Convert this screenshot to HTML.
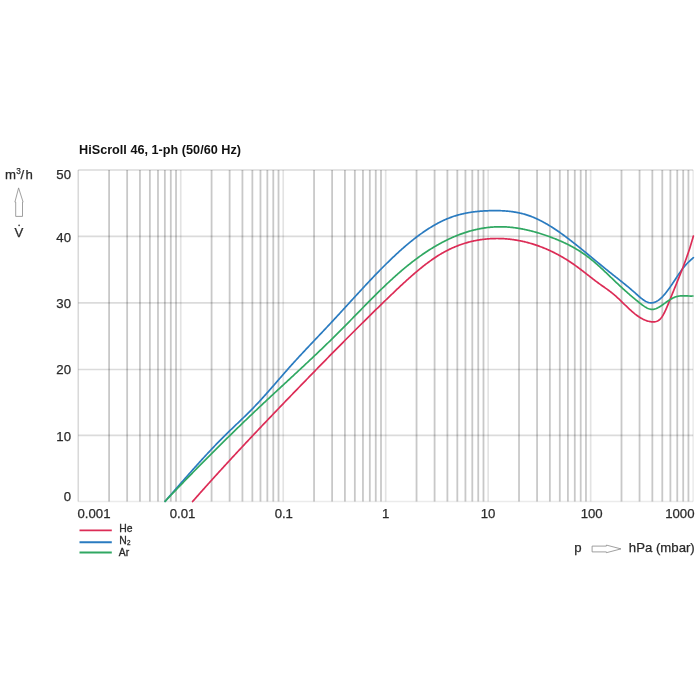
<!DOCTYPE html>
<html><head><meta charset="utf-8"><style>
html,body{margin:0;padding:0;background:#fff;}
svg{display:block;will-change:transform;}
text{font-family:"Liberation Sans",sans-serif;}
.mi{stroke:#000;stroke-opacity:0.215;stroke-width:1.8;}
.ma{stroke:#000;stroke-opacity:0.14;stroke-width:1.7;}
.md{stroke:#000;stroke-opacity:0.11;stroke-width:1.7;}
.bl{stroke:#000;stroke-opacity:0.15;stroke-width:1.6;}
.br{stroke:#000;stroke-opacity:0.08;stroke-width:1.6;}
.c{fill:none;stroke-width:1.7;stroke-linejoin:round;stroke-linecap:round;}
.ax{font-size:13.2px;fill:#2a2a2a;stroke:#2a2a2a;stroke-width:0.25px;}
.lg{font-size:10.4px;fill:#2a2a2a;stroke:#2a2a2a;stroke-width:0.3px;}
.ar{fill:none;stroke:#888;stroke-width:0.8;}
</style></head><body>
<svg width="700" height="700" viewBox="0 0 700 700">
<rect width="700" height="700" fill="#fff"/>
<line x1="109.10" y1="170.0" x2="109.10" y2="501.5" class="mi"/>
<line x1="127.15" y1="170.0" x2="127.15" y2="501.5" class="mi"/>
<line x1="139.95" y1="170.0" x2="139.95" y2="501.5" class="mi"/>
<line x1="149.88" y1="170.0" x2="149.88" y2="501.5" class="mi"/>
<line x1="157.99" y1="170.0" x2="157.99" y2="501.5" class="mi"/>
<line x1="164.86" y1="170.0" x2="164.86" y2="501.5" class="mi"/>
<line x1="170.80" y1="170.0" x2="170.80" y2="501.5" class="mi"/>
<line x1="176.04" y1="170.0" x2="176.04" y2="501.5" class="mi"/>
<line x1="211.58" y1="170.0" x2="211.58" y2="501.5" class="mi"/>
<line x1="229.63" y1="170.0" x2="229.63" y2="501.5" class="mi"/>
<line x1="242.43" y1="170.0" x2="242.43" y2="501.5" class="mi"/>
<line x1="252.36" y1="170.0" x2="252.36" y2="501.5" class="mi"/>
<line x1="260.47" y1="170.0" x2="260.47" y2="501.5" class="mi"/>
<line x1="267.34" y1="170.0" x2="267.34" y2="501.5" class="mi"/>
<line x1="273.28" y1="170.0" x2="273.28" y2="501.5" class="mi"/>
<line x1="278.52" y1="170.0" x2="278.52" y2="501.5" class="mi"/>
<line x1="314.06" y1="170.0" x2="314.06" y2="501.5" class="mi"/>
<line x1="332.11" y1="170.0" x2="332.11" y2="501.5" class="mi"/>
<line x1="344.91" y1="170.0" x2="344.91" y2="501.5" class="mi"/>
<line x1="354.84" y1="170.0" x2="354.84" y2="501.5" class="mi"/>
<line x1="362.95" y1="170.0" x2="362.95" y2="501.5" class="mi"/>
<line x1="369.82" y1="170.0" x2="369.82" y2="501.5" class="mi"/>
<line x1="375.76" y1="170.0" x2="375.76" y2="501.5" class="mi"/>
<line x1="381.00" y1="170.0" x2="381.00" y2="501.5" class="mi"/>
<line x1="416.54" y1="170.0" x2="416.54" y2="501.5" class="mi"/>
<line x1="434.59" y1="170.0" x2="434.59" y2="501.5" class="mi"/>
<line x1="447.39" y1="170.0" x2="447.39" y2="501.5" class="mi"/>
<line x1="457.32" y1="170.0" x2="457.32" y2="501.5" class="mi"/>
<line x1="465.43" y1="170.0" x2="465.43" y2="501.5" class="mi"/>
<line x1="472.30" y1="170.0" x2="472.30" y2="501.5" class="mi"/>
<line x1="478.24" y1="170.0" x2="478.24" y2="501.5" class="mi"/>
<line x1="483.48" y1="170.0" x2="483.48" y2="501.5" class="mi"/>
<line x1="519.02" y1="170.0" x2="519.02" y2="501.5" class="mi"/>
<line x1="537.07" y1="170.0" x2="537.07" y2="501.5" class="mi"/>
<line x1="549.87" y1="170.0" x2="549.87" y2="501.5" class="mi"/>
<line x1="559.80" y1="170.0" x2="559.80" y2="501.5" class="mi"/>
<line x1="567.91" y1="170.0" x2="567.91" y2="501.5" class="mi"/>
<line x1="574.78" y1="170.0" x2="574.78" y2="501.5" class="mi"/>
<line x1="580.72" y1="170.0" x2="580.72" y2="501.5" class="mi"/>
<line x1="585.96" y1="170.0" x2="585.96" y2="501.5" class="mi"/>
<line x1="621.50" y1="170.0" x2="621.50" y2="501.5" class="mi"/>
<line x1="639.55" y1="170.0" x2="639.55" y2="501.5" class="mi"/>
<line x1="652.35" y1="170.0" x2="652.35" y2="501.5" class="mi"/>
<line x1="662.28" y1="170.0" x2="662.28" y2="501.5" class="mi"/>
<line x1="670.39" y1="170.0" x2="670.39" y2="501.5" class="mi"/>
<line x1="677.26" y1="170.0" x2="677.26" y2="501.5" class="mi"/>
<line x1="683.20" y1="170.0" x2="683.20" y2="501.5" class="mi"/>
<line x1="688.44" y1="170.0" x2="688.44" y2="501.5" class="mi"/>
<line x1="180.73" y1="170.0" x2="180.73" y2="501.5" class="md"/>
<line x1="283.21" y1="170.0" x2="283.21" y2="501.5" class="md"/>
<line x1="385.69" y1="170.0" x2="385.69" y2="501.5" class="md"/>
<line x1="488.17" y1="170.0" x2="488.17" y2="501.5" class="md"/>
<line x1="590.65" y1="170.0" x2="590.65" y2="501.5" class="md"/>
<line x1="78.25" y1="236.4" x2="693.13" y2="236.4" class="ma"/>
<line x1="78.25" y1="302.9" x2="693.13" y2="302.9" class="ma"/>
<line x1="78.25" y1="369.5" x2="693.13" y2="369.5" class="ma"/>
<line x1="78.25" y1="435.4" x2="693.13" y2="435.4" class="ma"/>
<line x1="78.25" y1="170.0" x2="693.13" y2="170.0" class="bl"/>
<line x1="78.25" y1="170.0" x2="78.25" y2="501.5" class="bl"/>
<line x1="78.25" y1="501.5" x2="693.13" y2="501.5" class="br"/>
<line x1="693.13" y1="170.0" x2="693.13" y2="501.5" class="br"/>
<path class="c" stroke="#2a7bc0" d="M165.10,501.32 L165.85,500.46 L166.60,499.60 L167.35,498.74 L168.10,497.88 L168.85,497.02 L169.60,496.16 L170.35,495.30 L171.10,494.44 L171.85,493.58 L172.60,492.72 L173.35,491.86 L174.10,491.00 L174.85,490.14 L175.60,489.28 L176.35,488.42 L177.10,487.56 L177.85,486.71 L178.60,485.85 L179.35,484.99 L180.10,484.13 L180.85,483.28 L181.60,482.42 L182.35,481.56 L183.10,480.71 L183.85,479.85 L184.60,479.00 L185.35,478.15 L186.10,477.30 L186.85,476.45 L187.60,475.60 L188.35,474.75 L189.10,473.90 L189.85,473.05 L190.60,472.21 L191.35,471.36 L192.10,470.52 L192.85,469.68 L193.60,468.83 L194.35,467.99 L195.10,467.16 L195.85,466.32 L196.60,465.48 L197.35,464.65 L198.10,463.82 L198.85,462.99 L199.60,462.16 L200.35,461.33 L201.10,460.51 L201.85,459.69 L202.60,458.86 L203.35,458.04 L204.10,457.23 L204.85,456.41 L205.60,455.60 L206.35,454.79 L207.10,453.98 L207.85,453.17 L208.60,452.37 L209.35,451.56 L210.10,450.76 L210.85,449.97 L211.60,449.17 L212.35,448.38 L213.10,447.59 L213.85,446.80 L214.60,446.02 L215.35,445.23 L216.10,444.45 L216.85,443.68 L217.60,442.90 L218.35,442.13 L219.10,441.36 L219.85,440.60 L220.60,439.84 L221.35,439.08 L222.10,438.32 L222.85,437.57 L223.60,436.82 L224.35,436.07 L225.10,435.33 L225.85,434.59 L226.60,433.85 L227.35,433.12 L228.10,432.39 L228.85,431.66 L229.60,430.93 L230.35,430.21 L231.10,429.49 L231.85,428.77 L232.60,428.05 L233.35,427.33 L234.10,426.61 L234.85,425.89 L235.60,425.17 L236.35,424.46 L237.10,423.74 L237.85,423.03 L238.60,422.31 L239.35,421.59 L240.10,420.87 L240.85,420.15 L241.60,419.43 L242.35,418.71 L243.10,417.99 L243.85,417.26 L244.60,416.53 L245.35,415.80 L246.10,415.07 L246.85,414.33 L247.60,413.60 L248.35,412.85 L249.10,412.11 L249.85,411.36 L250.60,410.61 L251.35,409.85 L252.10,409.09 L252.85,408.32 L253.60,407.55 L254.35,406.78 L255.10,406.00 L255.85,405.21 L256.60,404.42 L257.35,403.62 L258.10,402.82 L258.85,402.02 L259.60,401.21 L260.35,400.39 L261.10,399.58 L261.85,398.75 L262.60,397.93 L263.35,397.10 L264.10,396.27 L264.85,395.43 L265.60,394.59 L266.35,393.75 L267.10,392.90 L267.85,392.06 L268.60,391.21 L269.35,390.36 L270.10,389.50 L270.85,388.65 L271.60,387.79 L272.35,386.93 L273.10,386.07 L273.85,385.21 L274.60,384.35 L275.35,383.48 L276.10,382.62 L276.85,381.76 L277.60,380.89 L278.35,380.03 L279.10,379.16 L279.85,378.30 L280.60,377.44 L281.35,376.58 L282.10,375.71 L282.85,374.85 L283.60,373.99 L284.35,373.14 L285.10,372.28 L285.85,371.42 L286.60,370.57 L287.35,369.72 L288.10,368.87 L288.85,368.02 L289.60,367.18 L290.35,366.34 L291.10,365.50 L291.85,364.67 L292.60,363.83 L293.35,363.00 L294.10,362.17 L294.85,361.35 L295.60,360.53 L296.35,359.71 L297.10,358.89 L297.85,358.07 L298.60,357.26 L299.35,356.44 L300.10,355.63 L300.85,354.82 L301.60,354.02 L302.35,353.21 L303.10,352.41 L303.85,351.60 L304.60,350.80 L305.35,350.00 L306.10,349.20 L306.85,348.41 L307.60,347.61 L308.35,346.81 L309.10,346.02 L309.85,345.22 L310.60,344.43 L311.35,343.64 L312.10,342.85 L312.85,342.06 L313.60,341.26 L314.35,340.47 L315.10,339.68 L315.85,338.89 L316.60,338.10 L317.35,337.31 L318.10,336.52 L318.85,335.73 L319.60,334.94 L320.35,334.15 L321.10,333.35 L321.85,332.56 L322.60,331.77 L323.35,330.98 L324.10,330.18 L324.85,329.39 L325.60,328.59 L326.35,327.79 L327.10,327.00 L327.85,326.20 L328.60,325.40 L329.35,324.59 L330.10,323.79 L330.85,322.99 L331.60,322.18 L332.35,321.37 L333.10,320.57 L333.85,319.76 L334.60,318.95 L335.35,318.13 L336.10,317.32 L336.85,316.51 L337.60,315.69 L338.35,314.88 L339.10,314.06 L339.85,313.24 L340.60,312.43 L341.35,311.61 L342.10,310.79 L342.85,309.97 L343.60,309.15 L344.35,308.33 L345.10,307.51 L345.85,306.69 L346.60,305.87 L347.35,305.05 L348.10,304.23 L348.85,303.41 L349.60,302.58 L350.35,301.76 L351.10,300.94 L351.85,300.12 L352.60,299.30 L353.35,298.48 L354.10,297.67 L354.85,296.85 L355.60,296.03 L356.35,295.21 L357.10,294.40 L357.85,293.58 L358.60,292.77 L359.35,291.95 L360.10,291.14 L360.85,290.33 L361.60,289.52 L362.35,288.71 L363.10,287.90 L363.85,287.09 L364.60,286.28 L365.35,285.48 L366.10,284.68 L366.85,283.87 L367.60,283.07 L368.35,282.28 L369.10,281.48 L369.85,280.68 L370.60,279.89 L371.35,279.10 L372.10,278.31 L372.85,277.52 L373.60,276.74 L374.35,275.95 L375.10,275.17 L375.85,274.39 L376.60,273.61 L377.35,272.84 L378.10,272.07 L378.85,271.30 L379.60,270.53 L380.35,269.77 L381.10,269.00 L381.85,268.24 L382.60,267.49 L383.35,266.73 L384.10,265.98 L384.85,265.24 L385.60,264.49 L386.35,263.75 L387.10,263.01 L387.85,262.27 L388.60,261.54 L389.35,260.81 L390.10,260.09 L390.85,259.36 L391.60,258.64 L392.35,257.93 L393.10,257.22 L393.85,256.51 L394.60,255.80 L395.35,255.10 L396.10,254.40 L396.85,253.71 L397.60,253.02 L398.35,252.33 L399.10,251.65 L399.85,250.98 L400.60,250.30 L401.35,249.63 L402.10,248.97 L402.85,248.31 L403.60,247.65 L404.35,247.00 L405.10,246.35 L405.85,245.71 L406.60,245.07 L407.35,244.44 L408.10,243.81 L408.85,243.18 L409.60,242.56 L410.35,241.95 L411.10,241.34 L411.85,240.74 L412.60,240.14 L413.35,239.54 L414.10,238.95 L414.85,238.37 L415.60,237.79 L416.35,237.22 L417.10,236.65 L417.85,236.09 L418.60,235.53 L419.35,234.98 L420.10,234.43 L420.85,233.89 L421.60,233.35 L422.35,232.82 L423.10,232.30 L423.85,231.78 L424.60,231.27 L425.35,230.76 L426.10,230.26 L426.85,229.77 L427.60,229.28 L428.35,228.80 L429.10,228.32 L429.85,227.85 L430.60,227.39 L431.35,226.93 L432.10,226.48 L432.85,226.03 L433.60,225.59 L434.35,225.16 L435.10,224.73 L435.85,224.31 L436.60,223.90 L437.35,223.49 L438.10,223.09 L438.85,222.70 L439.60,222.31 L440.35,221.93 L441.10,221.56 L441.85,221.19 L442.60,220.83 L443.35,220.48 L444.10,220.13 L444.85,219.80 L445.60,219.46 L446.35,219.14 L447.10,218.82 L447.85,218.51 L448.60,218.21 L449.35,217.92 L450.10,217.63 L450.85,217.35 L451.60,217.08 L452.35,216.81 L453.10,216.55 L453.85,216.30 L454.60,216.06 L455.35,215.82 L456.10,215.59 L456.85,215.36 L457.60,215.15 L458.35,214.93 L459.10,214.73 L459.85,214.53 L460.60,214.34 L461.35,214.15 L462.10,213.97 L462.85,213.80 L463.60,213.63 L464.35,213.47 L465.10,213.31 L465.85,213.16 L466.60,213.01 L467.35,212.87 L468.10,212.74 L468.85,212.61 L469.60,212.48 L470.35,212.36 L471.10,212.25 L471.85,212.14 L472.60,212.03 L473.35,211.93 L474.10,211.84 L474.85,211.74 L475.60,211.66 L476.35,211.57 L477.10,211.49 L477.85,211.42 L478.60,211.35 L479.35,211.28 L480.10,211.22 L480.85,211.16 L481.60,211.10 L482.35,211.05 L483.10,211.00 L483.85,210.96 L484.60,210.91 L485.35,210.88 L486.10,210.84 L486.85,210.81 L487.60,210.78 L488.35,210.75 L489.10,210.72 L489.85,210.70 L490.60,210.68 L491.35,210.67 L492.10,210.65 L492.85,210.64 L493.60,210.63 L494.35,210.63 L495.10,210.62 L495.85,210.62 L496.60,210.63 L497.35,210.64 L498.10,210.65 L498.85,210.66 L499.60,210.68 L500.35,210.70 L501.10,210.73 L501.85,210.76 L502.60,210.80 L503.35,210.84 L504.10,210.88 L504.85,210.93 L505.60,210.98 L506.35,211.04 L507.10,211.11 L507.85,211.17 L508.60,211.25 L509.35,211.33 L510.10,211.41 L510.85,211.50 L511.60,211.60 L512.35,211.70 L513.10,211.80 L513.85,211.92 L514.60,212.04 L515.35,212.16 L516.10,212.29 L516.85,212.43 L517.60,212.58 L518.35,212.73 L519.10,212.89 L519.85,213.05 L520.60,213.22 L521.35,213.40 L522.10,213.59 L522.85,213.78 L523.60,213.98 L524.35,214.19 L525.10,214.41 L525.85,214.63 L526.60,214.86 L527.35,215.10 L528.10,215.35 L528.85,215.60 L529.60,215.87 L530.35,216.14 L531.10,216.42 L531.85,216.71 L532.60,217.01 L533.35,217.32 L534.10,217.63 L534.85,217.95 L535.60,218.28 L536.35,218.62 L537.10,218.96 L537.85,219.32 L538.60,219.68 L539.35,220.04 L540.10,220.42 L540.85,220.80 L541.60,221.19 L542.35,221.58 L543.10,221.99 L543.85,222.39 L544.60,222.81 L545.35,223.23 L546.10,223.66 L546.85,224.09 L547.60,224.53 L548.35,224.98 L549.10,225.43 L549.85,225.89 L550.60,226.35 L551.35,226.82 L552.10,227.30 L552.85,227.78 L553.60,228.26 L554.35,228.75 L555.10,229.25 L555.85,229.75 L556.60,230.26 L557.35,230.77 L558.10,231.28 L558.85,231.80 L559.60,232.32 L560.35,232.85 L561.10,233.38 L561.85,233.92 L562.60,234.46 L563.35,235.01 L564.10,235.55 L564.85,236.10 L565.60,236.66 L566.35,237.22 L567.10,237.78 L567.85,238.35 L568.60,238.91 L569.35,239.49 L570.10,240.06 L570.85,240.64 L571.60,241.22 L572.35,241.80 L573.10,242.38 L573.85,242.97 L574.60,243.56 L575.35,244.15 L576.10,244.75 L576.85,245.34 L577.60,245.94 L578.35,246.54 L579.10,247.15 L579.85,247.75 L580.60,248.36 L581.35,248.96 L582.10,249.57 L582.85,250.18 L583.60,250.79 L584.35,251.41 L585.10,252.02 L585.85,252.63 L586.60,253.25 L587.35,253.87 L588.10,254.48 L588.85,255.10 L589.60,255.72 L590.35,256.34 L591.10,256.96 L591.85,257.58 L592.60,258.20 L593.35,258.82 L594.10,259.44 L594.85,260.06 L595.60,260.68 L596.35,261.30 L597.10,261.92 L597.85,262.54 L598.60,263.16 L599.35,263.78 L600.10,264.39 L600.85,265.01 L601.60,265.63 L602.35,266.24 L603.10,266.86 L603.85,267.47 L604.60,268.08 L605.35,268.69 L606.10,269.30 L606.85,269.91 L607.60,270.51 L608.35,271.12 L609.10,271.72 L609.85,272.32 L610.60,272.92 L611.35,273.52 L612.10,274.12 L612.85,274.71 L613.60,275.30 L614.35,275.90 L615.10,276.49 L615.85,277.08 L616.60,277.67 L617.35,278.27 L618.10,278.86 L618.85,279.45 L619.60,280.05 L620.35,280.64 L621.10,281.24 L621.85,281.84 L622.60,282.44 L623.35,283.04 L624.10,283.64 L624.85,284.25 L625.60,284.86 L626.35,285.47 L627.10,286.09 L627.85,286.71 L628.60,287.33 L629.35,287.96 L630.10,288.59 L630.85,289.23 L631.60,289.87 L632.35,290.52 L633.10,291.17 L633.85,291.82 L634.60,292.49 L635.35,293.15 L636.10,293.83 L636.85,294.50 L637.60,295.17 L638.35,295.84 L639.10,296.49 L639.85,297.13 L640.60,297.76 L641.35,298.37 L642.10,298.95 L642.85,299.51 L643.60,300.03 L644.35,300.53 L645.10,300.98 L645.85,301.40 L646.60,301.77 L647.35,302.09 L648.10,302.36 L648.85,302.58 L649.60,302.74 L650.35,302.84 L651.10,302.88 L651.85,302.85 L652.60,302.77 L653.35,302.63 L654.10,302.43 L654.85,302.17 L655.60,301.86 L656.35,301.49 L657.10,301.07 L657.85,300.61 L658.60,300.09 L659.35,299.52 L660.10,298.91 L660.85,298.25 L661.60,297.55 L662.35,296.80 L663.10,296.01 L663.85,295.19 L664.60,294.32 L665.35,293.42 L666.10,292.49 L666.85,291.53 L667.60,290.55 L668.35,289.53 L669.10,288.50 L669.85,287.44 L670.60,286.37 L671.35,285.28 L672.10,284.17 L672.85,283.06 L673.60,281.93 L674.35,280.80 L675.10,279.67 L675.85,278.53 L676.60,277.40 L677.35,276.27 L678.10,275.15 L678.85,274.04 L679.60,272.95 L680.35,271.87 L681.10,270.82 L681.85,269.78 L682.60,268.78 L683.35,267.81 L684.10,266.87 L684.85,265.97 L685.60,265.10 L686.35,264.28 L687.10,263.49 L687.85,262.72 L688.60,261.99 L689.35,261.28 L690.10,260.59 L690.85,259.91 L691.60,259.25 L692.35,258.60 L693.10,257.96 L693.40,257.70"/>
<path class="c" stroke="#dc2c56" d="M192.60,501.53 L193.35,500.67 L194.10,499.82 L194.85,498.97 L195.60,498.12 L196.35,497.27 L197.10,496.42 L197.85,495.57 L198.60,494.72 L199.35,493.87 L200.10,493.03 L200.85,492.18 L201.60,491.34 L202.35,490.50 L203.10,489.65 L203.85,488.81 L204.60,487.97 L205.35,487.13 L206.10,486.30 L206.85,485.46 L207.60,484.62 L208.35,483.78 L209.10,482.95 L209.85,482.12 L210.60,481.28 L211.35,480.45 L212.10,479.62 L212.85,478.79 L213.60,477.96 L214.35,477.13 L215.10,476.30 L215.85,475.47 L216.60,474.64 L217.35,473.82 L218.10,472.99 L218.85,472.17 L219.60,471.34 L220.35,470.52 L221.10,469.70 L221.85,468.88 L222.60,468.06 L223.35,467.24 L224.10,466.42 L224.85,465.60 L225.60,464.78 L226.35,463.96 L227.10,463.15 L227.85,462.33 L228.60,461.52 L229.35,460.70 L230.10,459.89 L230.85,459.08 L231.60,458.26 L232.35,457.45 L233.10,456.64 L233.85,455.83 L234.60,455.02 L235.35,454.21 L236.10,453.40 L236.85,452.60 L237.60,451.79 L238.35,450.98 L239.10,450.18 L239.85,449.37 L240.60,448.57 L241.35,447.76 L242.10,446.96 L242.85,446.16 L243.60,445.36 L244.35,444.55 L245.10,443.75 L245.85,442.95 L246.60,442.15 L247.35,441.35 L248.10,440.55 L248.85,439.76 L249.60,438.96 L250.35,438.16 L251.10,437.37 L251.85,436.57 L252.60,435.77 L253.35,434.98 L254.10,434.18 L254.85,433.39 L255.60,432.60 L256.35,431.80 L257.10,431.01 L257.85,430.22 L258.60,429.43 L259.35,428.64 L260.10,427.85 L260.85,427.06 L261.60,426.27 L262.35,425.48 L263.10,424.69 L263.85,423.90 L264.60,423.11 L265.35,422.33 L266.10,421.54 L266.85,420.75 L267.60,419.97 L268.35,419.18 L269.10,418.39 L269.85,417.61 L270.60,416.82 L271.35,416.04 L272.10,415.26 L272.85,414.47 L273.60,413.69 L274.35,412.91 L275.10,412.13 L275.85,411.34 L276.60,410.56 L277.35,409.78 L278.10,409.00 L278.85,408.22 L279.60,407.44 L280.35,406.66 L281.10,405.88 L281.85,405.10 L282.60,404.32 L283.35,403.54 L284.10,402.76 L284.85,401.98 L285.60,401.21 L286.35,400.43 L287.10,399.65 L287.85,398.87 L288.60,398.10 L289.35,397.32 L290.10,396.54 L290.85,395.77 L291.60,394.99 L292.35,394.22 L293.10,393.44 L293.85,392.67 L294.60,391.89 L295.35,391.12 L296.10,390.34 L296.85,389.57 L297.60,388.79 L298.35,388.02 L299.10,387.24 L299.85,386.47 L300.60,385.70 L301.35,384.92 L302.10,384.15 L302.85,383.38 L303.60,382.60 L304.35,381.83 L305.10,381.06 L305.85,380.29 L306.60,379.52 L307.35,378.74 L308.10,377.97 L308.85,377.20 L309.60,376.43 L310.35,375.66 L311.10,374.89 L311.85,374.12 L312.60,373.35 L313.35,372.58 L314.10,371.81 L314.85,371.04 L315.60,370.27 L316.35,369.50 L317.10,368.73 L317.85,367.96 L318.60,367.19 L319.35,366.42 L320.10,365.66 L320.85,364.89 L321.60,364.12 L322.35,363.36 L323.10,362.59 L323.85,361.82 L324.60,361.06 L325.35,360.29 L326.10,359.53 L326.85,358.76 L327.60,358.00 L328.35,357.23 L329.10,356.47 L329.85,355.71 L330.60,354.94 L331.35,354.18 L332.10,353.42 L332.85,352.65 L333.60,351.89 L334.35,351.13 L335.10,350.37 L335.85,349.61 L336.60,348.85 L337.35,348.09 L338.10,347.33 L338.85,346.57 L339.60,345.81 L340.35,345.05 L341.10,344.30 L341.85,343.54 L342.60,342.78 L343.35,342.03 L344.10,341.27 L344.85,340.51 L345.60,339.76 L346.35,339.00 L347.10,338.25 L347.85,337.50 L348.60,336.74 L349.35,335.99 L350.10,335.24 L350.85,334.48 L351.60,333.73 L352.35,332.98 L353.10,332.23 L353.85,331.48 L354.60,330.73 L355.35,329.98 L356.10,329.23 L356.85,328.49 L357.60,327.74 L358.35,326.99 L359.10,326.25 L359.85,325.50 L360.60,324.75 L361.35,324.01 L362.10,323.26 L362.85,322.52 L363.60,321.78 L364.35,321.03 L365.10,320.29 L365.85,319.55 L366.60,318.81 L367.35,318.07 L368.10,317.33 L368.85,316.59 L369.60,315.85 L370.35,315.11 L371.10,314.38 L371.85,313.64 L372.60,312.90 L373.35,312.17 L374.10,311.43 L374.85,310.70 L375.60,309.96 L376.35,309.23 L377.10,308.50 L377.85,307.77 L378.60,307.04 L379.35,306.31 L380.10,305.58 L380.85,304.85 L381.60,304.12 L382.35,303.39 L383.10,302.66 L383.85,301.94 L384.60,301.21 L385.35,300.49 L386.10,299.76 L386.85,299.04 L387.60,298.31 L388.35,297.59 L389.10,296.87 L389.85,296.15 L390.60,295.43 L391.35,294.71 L392.10,293.99 L392.85,293.27 L393.60,292.56 L394.35,291.84 L395.10,291.13 L395.85,290.42 L396.60,289.70 L397.35,288.99 L398.10,288.29 L398.85,287.58 L399.60,286.88 L400.35,286.17 L401.10,285.47 L401.85,284.78 L402.60,284.08 L403.35,283.39 L404.10,282.70 L404.85,282.01 L405.60,281.32 L406.35,280.64 L407.10,279.96 L407.85,279.29 L408.60,278.61 L409.35,277.94 L410.10,277.27 L410.85,276.61 L411.60,275.95 L412.35,275.29 L413.10,274.64 L413.85,273.99 L414.60,273.34 L415.35,272.70 L416.10,272.07 L416.85,271.43 L417.60,270.80 L418.35,270.18 L419.10,269.56 L419.85,268.94 L420.60,268.33 L421.35,267.72 L422.10,267.12 L422.85,266.53 L423.60,265.94 L424.35,265.35 L425.10,264.77 L425.85,264.19 L426.60,263.62 L427.35,263.06 L428.10,262.50 L428.85,261.95 L429.60,261.40 L430.35,260.86 L431.10,260.32 L431.85,259.79 L432.60,259.27 L433.35,258.75 L434.10,258.24 L434.85,257.74 L435.60,257.24 L436.35,256.75 L437.10,256.27 L437.85,255.79 L438.60,255.32 L439.35,254.86 L440.10,254.40 L440.85,253.95 L441.60,253.51 L442.35,253.08 L443.10,252.65 L443.85,252.24 L444.60,251.82 L445.35,251.42 L446.10,251.02 L446.85,250.63 L447.60,250.25 L448.35,249.87 L449.10,249.50 L449.85,249.14 L450.60,248.78 L451.35,248.43 L452.10,248.09 L452.85,247.75 L453.60,247.42 L454.35,247.10 L455.10,246.78 L455.85,246.47 L456.60,246.17 L457.35,245.88 L458.10,245.59 L458.85,245.30 L459.60,245.02 L460.35,244.75 L461.10,244.49 L461.85,244.23 L462.60,243.98 L463.35,243.73 L464.10,243.49 L464.85,243.26 L465.60,243.03 L466.35,242.81 L467.10,242.60 L467.85,242.39 L468.60,242.18 L469.35,241.99 L470.10,241.80 L470.85,241.61 L471.60,241.43 L472.35,241.26 L473.10,241.09 L473.85,240.93 L474.60,240.77 L475.35,240.62 L476.10,240.47 L476.85,240.33 L477.60,240.20 L478.35,240.07 L479.10,239.94 L479.85,239.83 L480.60,239.71 L481.35,239.61 L482.10,239.50 L482.85,239.41 L483.60,239.31 L484.35,239.23 L485.10,239.15 L485.85,239.07 L486.60,239.00 L487.35,238.93 L488.10,238.87 L488.85,238.81 L489.60,238.76 L490.35,238.72 L491.10,238.67 L491.85,238.64 L492.60,238.61 L493.35,238.58 L494.10,238.56 L494.85,238.54 L495.60,238.53 L496.35,238.52 L497.10,238.52 L497.85,238.52 L498.60,238.53 L499.35,238.54 L500.10,238.56 L500.85,238.58 L501.60,238.60 L502.35,238.64 L503.10,238.67 L503.85,238.71 L504.60,238.76 L505.35,238.81 L506.10,238.87 L506.85,238.93 L507.60,238.99 L508.35,239.06 L509.10,239.14 L509.85,239.22 L510.60,239.30 L511.35,239.39 L512.10,239.49 L512.85,239.59 L513.60,239.69 L514.35,239.80 L515.10,239.92 L515.85,240.04 L516.60,240.16 L517.35,240.29 L518.10,240.42 L518.85,240.56 L519.60,240.71 L520.35,240.86 L521.10,241.01 L521.85,241.17 L522.60,241.33 L523.35,241.50 L524.10,241.67 L524.85,241.85 L525.60,242.03 L526.35,242.22 L527.10,242.41 L527.85,242.61 L528.60,242.81 L529.35,243.02 L530.10,243.23 L530.85,243.45 L531.60,243.67 L532.35,243.90 L533.10,244.13 L533.85,244.37 L534.60,244.61 L535.35,244.85 L536.10,245.10 L536.85,245.36 L537.60,245.62 L538.35,245.89 L539.10,246.16 L539.85,246.43 L540.60,246.72 L541.35,247.00 L542.10,247.29 L542.85,247.59 L543.60,247.89 L544.35,248.19 L545.10,248.50 L545.85,248.82 L546.60,249.14 L547.35,249.46 L548.10,249.80 L548.85,250.13 L549.60,250.47 L550.35,250.82 L551.10,251.17 L551.85,251.53 L552.60,251.89 L553.35,252.26 L554.10,252.63 L554.85,253.01 L555.60,253.39 L556.35,253.78 L557.10,254.18 L557.85,254.57 L558.60,254.98 L559.35,255.39 L560.10,255.81 L560.85,256.23 L561.60,256.66 L562.35,257.09 L563.10,257.53 L563.85,257.97 L564.60,258.42 L565.35,258.88 L566.10,259.34 L566.85,259.81 L567.60,260.28 L568.35,260.76 L569.10,261.25 L569.85,261.74 L570.60,262.23 L571.35,262.74 L572.10,263.24 L572.85,263.76 L573.60,264.28 L574.35,264.81 L575.10,265.34 L575.85,265.88 L576.60,266.42 L577.35,266.97 L578.10,267.53 L578.85,268.08 L579.60,268.65 L580.35,269.21 L581.10,269.79 L581.85,270.36 L582.60,270.94 L583.35,271.51 L584.10,272.10 L584.85,272.68 L585.60,273.26 L586.35,273.85 L587.10,274.43 L587.85,275.02 L588.60,275.61 L589.35,276.19 L590.10,276.78 L590.85,277.36 L591.60,277.94 L592.35,278.52 L593.10,279.10 L593.85,279.67 L594.60,280.25 L595.35,280.81 L596.10,281.38 L596.85,281.94 L597.60,282.50 L598.35,283.05 L599.10,283.60 L599.85,284.14 L600.60,284.67 L601.35,285.20 L602.10,285.73 L602.85,286.26 L603.60,286.78 L604.35,287.30 L605.10,287.83 L605.85,288.36 L606.60,288.89 L607.35,289.42 L608.10,289.97 L608.85,290.51 L609.60,291.07 L610.35,291.64 L611.10,292.22 L611.85,292.81 L612.60,293.42 L613.35,294.04 L614.10,294.67 L614.85,295.32 L615.60,295.99 L616.35,296.66 L617.10,297.34 L617.85,298.04 L618.60,298.74 L619.35,299.45 L620.10,300.17 L620.85,300.89 L621.60,301.61 L622.35,302.34 L623.10,303.07 L623.85,303.80 L624.60,304.53 L625.35,305.25 L626.10,305.98 L626.85,306.70 L627.60,307.41 L628.35,308.12 L629.10,308.83 L629.85,309.52 L630.60,310.20 L631.35,310.88 L632.10,311.54 L632.85,312.19 L633.60,312.82 L634.35,313.44 L635.10,314.05 L635.85,314.63 L636.60,315.20 L637.35,315.75 L638.10,316.28 L638.85,316.79 L639.60,317.27 L640.35,317.73 L641.10,318.17 L641.85,318.59 L642.60,318.99 L643.35,319.36 L644.10,319.70 L644.85,320.03 L645.60,320.32 L646.35,320.60 L647.10,320.85 L647.85,321.07 L648.60,321.27 L649.35,321.44 L650.10,321.59 L650.85,321.71 L651.60,321.80 L652.35,321.86 L653.10,321.90 L653.85,321.89 L654.60,321.84 L655.35,321.72 L656.10,321.54 L656.85,321.29 L657.60,320.95 L658.35,320.52 L659.10,319.98 L659.85,319.34 L660.60,318.57 L661.35,317.68 L662.10,316.65 L662.85,315.48 L663.60,314.18 L664.35,312.76 L665.10,311.24 L665.85,309.63 L666.60,307.94 L667.35,306.19 L668.10,304.39 L668.85,302.54 L669.60,300.68 L670.35,298.80 L671.10,296.92 L671.85,295.05 L672.60,293.19 L673.35,291.34 L674.10,289.49 L674.85,287.65 L675.60,285.81 L676.35,283.96 L677.10,282.12 L677.85,280.27 L678.60,278.41 L679.35,276.55 L680.10,274.67 L680.85,272.78 L681.60,270.88 L682.35,268.95 L683.10,267.01 L683.85,265.03 L684.60,263.03 L685.35,261.00 L686.10,258.92 L686.85,256.81 L687.60,254.65 L688.35,252.45 L689.10,250.20 L689.85,247.89 L690.60,245.52 L691.35,243.09 L692.10,240.59 L692.85,238.03 L693.40,236.10"/>
<path class="c" stroke="#30a862" d="M165.10,501.33 L165.85,500.54 L166.60,499.75 L167.35,498.96 L168.10,498.18 L168.85,497.39 L169.60,496.60 L170.35,495.82 L171.10,495.03 L171.85,494.25 L172.60,493.46 L173.35,492.68 L174.10,491.90 L174.85,491.12 L175.60,490.33 L176.35,489.55 L177.10,488.77 L177.85,487.99 L178.60,487.21 L179.35,486.44 L180.10,485.66 L180.85,484.88 L181.60,484.10 L182.35,483.33 L183.10,482.55 L183.85,481.78 L184.60,481.00 L185.35,480.23 L186.10,479.46 L186.85,478.69 L187.60,477.92 L188.35,477.14 L189.10,476.37 L189.85,475.61 L190.60,474.84 L191.35,474.07 L192.10,473.30 L192.85,472.53 L193.60,471.77 L194.35,471.00 L195.10,470.24 L195.85,469.47 L196.60,468.71 L197.35,467.95 L198.10,467.18 L198.85,466.42 L199.60,465.66 L200.35,464.90 L201.10,464.14 L201.85,463.38 L202.60,462.62 L203.35,461.87 L204.10,461.11 L204.85,460.35 L205.60,459.60 L206.35,458.84 L207.10,458.09 L207.85,457.33 L208.60,456.58 L209.35,455.83 L210.10,455.08 L210.85,454.33 L211.60,453.58 L212.35,452.83 L213.10,452.08 L213.85,451.33 L214.60,450.58 L215.35,449.83 L216.10,449.09 L216.85,448.34 L217.60,447.60 L218.35,446.85 L219.10,446.11 L219.85,445.37 L220.60,444.62 L221.35,443.88 L222.10,443.14 L222.85,442.40 L223.60,441.66 L224.35,440.92 L225.10,440.18 L225.85,439.44 L226.60,438.71 L227.35,437.97 L228.10,437.24 L228.85,436.50 L229.60,435.77 L230.35,435.03 L231.10,434.30 L231.85,433.57 L232.60,432.84 L233.35,432.10 L234.10,431.37 L234.85,430.64 L235.60,429.92 L236.35,429.19 L237.10,428.46 L237.85,427.73 L238.60,427.01 L239.35,426.28 L240.10,425.56 L240.85,424.83 L241.60,424.11 L242.35,423.39 L243.10,422.66 L243.85,421.94 L244.60,421.22 L245.35,420.50 L246.10,419.78 L246.85,419.07 L247.60,418.35 L248.35,417.63 L249.10,416.91 L249.85,416.20 L250.60,415.48 L251.35,414.77 L252.10,414.05 L252.85,413.34 L253.60,412.63 L254.35,411.92 L255.10,411.21 L255.85,410.50 L256.60,409.79 L257.35,409.08 L258.10,408.37 L258.85,407.66 L259.60,406.96 L260.35,406.25 L261.10,405.55 L261.85,404.84 L262.60,404.14 L263.35,403.43 L264.10,402.73 L264.85,402.03 L265.60,401.33 L266.35,400.63 L267.10,399.93 L267.85,399.23 L268.60,398.53 L269.35,397.83 L270.10,397.13 L270.85,396.43 L271.60,395.73 L272.35,395.04 L273.10,394.34 L273.85,393.64 L274.60,392.95 L275.35,392.25 L276.10,391.55 L276.85,390.86 L277.60,390.16 L278.35,389.47 L279.10,388.77 L279.85,388.08 L280.60,387.38 L281.35,386.69 L282.10,386.00 L282.85,385.30 L283.60,384.61 L284.35,383.91 L285.10,383.22 L285.85,382.52 L286.60,381.83 L287.35,381.14 L288.10,380.44 L288.85,379.75 L289.60,379.05 L290.35,378.36 L291.10,377.66 L291.85,376.97 L292.60,376.27 L293.35,375.58 L294.10,374.88 L294.85,374.19 L295.60,373.49 L296.35,372.79 L297.10,372.10 L297.85,371.40 L298.60,370.70 L299.35,370.00 L300.10,369.31 L300.85,368.61 L301.60,367.91 L302.35,367.21 L303.10,366.51 L303.85,365.81 L304.60,365.11 L305.35,364.41 L306.10,363.70 L306.85,363.00 L307.60,362.30 L308.35,361.59 L309.10,360.89 L309.85,360.18 L310.60,359.48 L311.35,358.77 L312.10,358.06 L312.85,357.35 L313.60,356.64 L314.35,355.93 L315.10,355.22 L315.85,354.51 L316.60,353.80 L317.35,353.09 L318.10,352.37 L318.85,351.66 L319.60,350.94 L320.35,350.22 L321.10,349.51 L321.85,348.79 L322.60,348.07 L323.35,347.34 L324.10,346.62 L324.85,345.90 L325.60,345.17 L326.35,344.45 L327.10,343.72 L327.85,342.99 L328.60,342.26 L329.35,341.53 L330.10,340.80 L330.85,340.07 L331.60,339.33 L332.35,338.60 L333.10,337.86 L333.85,337.12 L334.60,336.38 L335.35,335.64 L336.10,334.90 L336.85,334.16 L337.60,333.41 L338.35,332.66 L339.10,331.91 L339.85,331.16 L340.60,330.41 L341.35,329.66 L342.10,328.90 L342.85,328.15 L343.60,327.39 L344.35,326.63 L345.10,325.87 L345.85,325.11 L346.60,324.35 L347.35,323.59 L348.10,322.83 L348.85,322.06 L349.60,321.30 L350.35,320.53 L351.10,319.77 L351.85,319.00 L352.60,318.23 L353.35,317.46 L354.10,316.70 L354.85,315.93 L355.60,315.16 L356.35,314.39 L357.10,313.62 L357.85,312.86 L358.60,312.09 L359.35,311.32 L360.10,310.55 L360.85,309.79 L361.60,309.02 L362.35,308.25 L363.10,307.49 L363.85,306.72 L364.60,305.96 L365.35,305.19 L366.10,304.43 L366.85,303.67 L367.60,302.91 L368.35,302.15 L369.10,301.39 L369.85,300.63 L370.60,299.88 L371.35,299.12 L372.10,298.37 L372.85,297.62 L373.60,296.87 L374.35,296.12 L375.10,295.37 L375.85,294.63 L376.60,293.88 L377.35,293.14 L378.10,292.40 L378.85,291.66 L379.60,290.93 L380.35,290.20 L381.10,289.47 L381.85,288.74 L382.60,288.01 L383.35,287.29 L384.10,286.57 L384.85,285.85 L385.60,285.13 L386.35,284.42 L387.10,283.71 L387.85,283.00 L388.60,282.30 L389.35,281.59 L390.10,280.90 L390.85,280.20 L391.60,279.51 L392.35,278.82 L393.10,278.14 L393.85,277.45 L394.60,276.78 L395.35,276.10 L396.10,275.43 L396.85,274.76 L397.60,274.10 L398.35,273.44 L399.10,272.79 L399.85,272.14 L400.60,271.49 L401.35,270.85 L402.10,270.21 L402.85,269.57 L403.60,268.94 L404.35,268.31 L405.10,267.69 L405.85,267.07 L406.60,266.46 L407.35,265.85 L408.10,265.25 L408.85,264.65 L409.60,264.05 L410.35,263.46 L411.10,262.87 L411.85,262.28 L412.60,261.70 L413.35,261.13 L414.10,260.56 L414.85,259.99 L415.60,259.43 L416.35,258.87 L417.10,258.32 L417.85,257.77 L418.60,257.22 L419.35,256.68 L420.10,256.15 L420.85,255.62 L421.60,255.09 L422.35,254.57 L423.10,254.05 L423.85,253.54 L424.60,253.03 L425.35,252.52 L426.10,252.02 L426.85,251.53 L427.60,251.04 L428.35,250.55 L429.10,250.07 L429.85,249.59 L430.60,249.12 L431.35,248.65 L432.10,248.19 L432.85,247.73 L433.60,247.28 L434.35,246.83 L435.10,246.38 L435.85,245.94 L436.60,245.51 L437.35,245.08 L438.10,244.65 L438.85,244.23 L439.60,243.82 L440.35,243.40 L441.10,243.00 L441.85,242.60 L442.60,242.20 L443.35,241.81 L444.10,241.42 L444.85,241.04 L445.60,240.66 L446.35,240.29 L447.10,239.92 L447.85,239.55 L448.60,239.20 L449.35,238.84 L450.10,238.50 L450.85,238.15 L451.60,237.81 L452.35,237.48 L453.10,237.15 L453.85,236.83 L454.60,236.51 L455.35,236.20 L456.10,235.89 L456.85,235.58 L457.60,235.28 L458.35,234.99 L459.10,234.70 L459.85,234.42 L460.60,234.14 L461.35,233.87 L462.10,233.60 L462.85,233.34 L463.60,233.08 L464.35,232.82 L465.10,232.58 L465.85,232.33 L466.60,232.09 L467.35,231.86 L468.10,231.63 L468.85,231.41 L469.60,231.19 L470.35,230.98 L471.10,230.77 L471.85,230.57 L472.60,230.37 L473.35,230.18 L474.10,230.00 L474.85,229.82 L475.60,229.64 L476.35,229.47 L477.10,229.30 L477.85,229.14 L478.60,228.99 L479.35,228.84 L480.10,228.69 L480.85,228.55 L481.60,228.42 L482.35,228.29 L483.10,228.16 L483.85,228.04 L484.60,227.93 L485.35,227.82 L486.10,227.72 L486.85,227.62 L487.60,227.53 L488.35,227.44 L489.10,227.36 L489.85,227.28 L490.60,227.21 L491.35,227.15 L492.10,227.09 L492.85,227.03 L493.60,226.98 L494.35,226.94 L495.10,226.90 L495.85,226.87 L496.60,226.84 L497.35,226.82 L498.10,226.80 L498.85,226.79 L499.60,226.78 L500.35,226.78 L501.10,226.78 L501.85,226.79 L502.60,226.81 L503.35,226.83 L504.10,226.85 L504.85,226.89 L505.60,226.92 L506.35,226.96 L507.10,227.01 L507.85,227.06 L508.60,227.12 L509.35,227.18 L510.10,227.25 L510.85,227.32 L511.60,227.39 L512.35,227.47 L513.10,227.56 L513.85,227.65 L514.60,227.75 L515.35,227.85 L516.10,227.95 L516.85,228.06 L517.60,228.17 L518.35,228.29 L519.10,228.41 L519.85,228.54 L520.60,228.67 L521.35,228.81 L522.10,228.95 L522.85,229.09 L523.60,229.24 L524.35,229.40 L525.10,229.55 L525.85,229.71 L526.60,229.88 L527.35,230.05 L528.10,230.22 L528.85,230.40 L529.60,230.58 L530.35,230.77 L531.10,230.95 L531.85,231.15 L532.60,231.34 L533.35,231.54 L534.10,231.75 L534.85,231.96 L535.60,232.17 L536.35,232.38 L537.10,232.60 L537.85,232.82 L538.60,233.05 L539.35,233.28 L540.10,233.51 L540.85,233.75 L541.60,233.98 L542.35,234.23 L543.10,234.47 L543.85,234.72 L544.60,234.97 L545.35,235.23 L546.10,235.49 L546.85,235.75 L547.60,236.01 L548.35,236.28 L549.10,236.55 L549.85,236.82 L550.60,237.09 L551.35,237.37 L552.10,237.65 L552.85,237.94 L553.60,238.23 L554.35,238.52 L555.10,238.81 L555.85,239.11 L556.60,239.41 L557.35,239.72 L558.10,240.03 L558.85,240.34 L559.60,240.66 L560.35,240.99 L561.10,241.31 L561.85,241.64 L562.60,241.98 L563.35,242.32 L564.10,242.67 L564.85,243.02 L565.60,243.37 L566.35,243.74 L567.10,244.10 L567.85,244.47 L568.60,244.85 L569.35,245.24 L570.10,245.62 L570.85,246.02 L571.60,246.42 L572.35,246.83 L573.10,247.24 L573.85,247.66 L574.60,248.09 L575.35,248.52 L576.10,248.96 L576.85,249.41 L577.60,249.86 L578.35,250.32 L579.10,250.79 L579.85,251.27 L580.60,251.75 L581.35,252.24 L582.10,252.74 L582.85,253.25 L583.60,253.76 L584.35,254.28 L585.10,254.81 L585.85,255.35 L586.60,255.90 L587.35,256.45 L588.10,257.02 L588.85,257.59 L589.60,258.17 L590.35,258.76 L591.10,259.36 L591.85,259.97 L592.60,260.59 L593.35,261.21 L594.10,261.84 L594.85,262.48 L595.60,263.13 L596.35,263.78 L597.10,264.44 L597.85,265.11 L598.60,265.78 L599.35,266.45 L600.10,267.14 L600.85,267.82 L601.60,268.51 L602.35,269.21 L603.10,269.90 L603.85,270.61 L604.60,271.31 L605.35,272.02 L606.10,272.73 L606.85,273.44 L607.60,274.16 L608.35,274.87 L609.10,275.59 L609.85,276.31 L610.60,277.03 L611.35,277.75 L612.10,278.47 L612.85,279.19 L613.60,279.90 L614.35,280.62 L615.10,281.34 L615.85,282.05 L616.60,282.76 L617.35,283.47 L618.10,284.18 L618.85,284.89 L619.60,285.59 L620.35,286.29 L621.10,286.98 L621.85,287.67 L622.60,288.36 L623.35,289.04 L624.10,289.72 L624.85,290.40 L625.60,291.07 L626.35,291.74 L627.10,292.40 L627.85,293.06 L628.60,293.72 L629.35,294.37 L630.10,295.02 L630.85,295.66 L631.60,296.30 L632.35,296.94 L633.10,297.57 L633.85,298.20 L634.60,298.82 L635.35,299.44 L636.10,300.06 L636.85,300.67 L637.60,301.28 L638.35,301.88 L639.10,302.48 L639.85,303.07 L640.60,303.66 L641.35,304.25 L642.10,304.82 L642.85,305.37 L643.60,305.91 L644.35,306.42 L645.10,306.91 L645.85,307.36 L646.60,307.78 L647.35,308.16 L648.10,308.49 L648.85,308.78 L649.60,309.02 L650.35,309.20 L651.10,309.33 L651.85,309.39 L652.60,309.38 L653.35,309.31 L654.10,309.18 L654.85,309.00 L655.60,308.76 L656.35,308.47 L657.10,308.14 L657.85,307.77 L658.60,307.37 L659.35,306.93 L660.10,306.47 L660.85,305.99 L661.60,305.48 L662.35,304.97 L663.10,304.44 L663.85,303.90 L664.60,303.37 L665.35,302.83 L666.10,302.30 L666.85,301.78 L667.60,301.26 L668.35,300.76 L669.10,300.26 L669.85,299.78 L670.60,299.32 L671.35,298.88 L672.10,298.47 L672.85,298.08 L673.60,297.71 L674.35,297.38 L675.10,297.07 L675.85,296.81 L676.60,296.58 L677.35,296.38 L678.10,296.22 L678.85,296.09 L679.60,295.98 L680.35,295.91 L681.10,295.85 L681.85,295.81 L682.60,295.80 L683.35,295.79 L684.10,295.80 L684.85,295.83 L685.60,295.85 L686.35,295.89 L687.10,295.92 L687.85,295.96 L688.60,295.99 L689.35,296.02 L690.10,296.04 L690.85,296.05 L691.60,296.04 L692.35,296.02 L693.00,295.99"/>
<text x="79" y="153.6" font-size="12.6" font-weight="bold" fill="#111" textLength="162" lengthAdjust="spacingAndGlyphs">HiScroll 46, 1-ph (50/60 Hz)</text>
<text class="ax" y="178.6"><tspan x="5.0">m</tspan><tspan x="16.3" y="173.8" font-size="8.2">3</tspan><tspan x="20.6" y="178.6">/</tspan><tspan x="25.6">h</tspan></text>
<path class="ar" d="M15.7,216.4 L15.7,202.1 L14.9,202.1 L18.6,187.9 L23.1,202.1 L22.5,202.1 L22.5,216.4 Z"/>
<text class="ax" x="19" y="236.6" text-anchor="middle">V</text>
<circle cx="19.1" cy="225.4" r="0.8" fill="#2a2a2a"/>
<g class="ax" text-anchor="end">
<text x="71" y="178.5">50</text>
<text x="71" y="307.5">30</text>
<text x="71" y="241.6">40</text>
<text x="71" y="373.6">20</text>
<text x="71" y="440.8">10</text>
<text x="71" y="501.4">0</text>
</g>
<g class="ax">
<text x="77.5" y="518.4">0.001</text>
<text x="182.6" y="518.4" text-anchor="middle">0.01</text>
<text x="283.8" y="518.4" text-anchor="middle">0.1</text>
<text x="385.7" y="518.4" text-anchor="middle">1</text>
<text x="488.1" y="518.4" text-anchor="middle">10</text>
<text x="591.7" y="518.4" text-anchor="middle">100</text>
<text x="694.5" y="518.4" text-anchor="end">1000</text>
</g>
<line x1="79.5" y1="530.4" x2="111.8" y2="530.4" stroke="#dc2c56" stroke-width="1.9"/>
<line x1="79.5" y1="542.3" x2="111.8" y2="542.3" stroke="#2a7bc0" stroke-width="1.9"/>
<line x1="79.5" y1="552.5" x2="111.8" y2="552.5" stroke="#30a862" stroke-width="1.9"/>
<g class="lg">
<text x="119.2" y="531.7">He</text>
<text x="119.2" y="543.7">N<tspan font-size="6.3" dx="0.4" dy="1.3">2</tspan></text>
<text x="118.8" y="555.7">Ar</text>
</g>
<text class="ax" x="574.3" y="552.2">p</text>
<path class="ar" d="M592.1,546.1 L606.4,546.1 L606.4,545.1 L621,548.9 L606.4,552.7 L606.4,551.9 L592.1,551.9 Z"/>
<text class="ax" x="628.8" y="552.2">hPa (mbar)</text>
</svg>
</body></html>
